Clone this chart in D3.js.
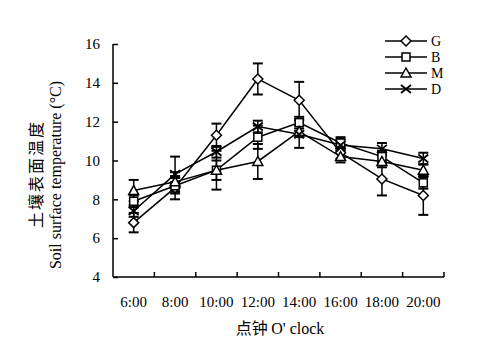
<!DOCTYPE html>
<html><head><meta charset="utf-8">
<script src="https://cdn.jsdelivr.net/npm/d3@7"></script>
<style>body{margin:0;background:#fff}svg{display:block}</style>
</head><body>
<svg id="c" width="482" height="358"></svg>
<script>
const categories = ["6:00","8:00","10:00","12:00","14:00","16:00","18:00","20:00"];
const seriesNames = ["G","B","M","D"];
const valuesG = [6.8, 8.6, 11.3, 14.2, 13.1, 10.4, 9.05, 8.2];
const valuesB = [7.9, 8.7, 9.5, 11.2, 11.95, 10.9, 10.2, 8.85];
const valuesM = [8.45, 8.9, 9.5, 9.95, 11.5, 10.2, 9.95, 9.5];
const valuesD = [7.4, 9.3, 10.45, 11.75, 11.35, 10.8, 10.6, 10.1];
const errG = [0.5, 0.6, 0.6, 0.8, 0.95, 0.3, 0.85, 1.0];
const errB = [0.3, 0.4, 0.5, 0.6, 0.3, 0.3, 0.3, 0.3];
const errM = [0.55, 0.5, 1.0, 0.9, 0.3, 0.3, 0.3, 0.3];
const errD = [0.3, 0.9, 0.3, 0.3, 0.7, 0.3, 0.3, 0.3];
const yTicks = [4, 6, 8, 10, 12, 14, 16];

(function(){
const series = [
  {name:"G", values:valuesG, err:errG, marker:"diamond"},
  {name:"B", values:valuesB, err:errB, marker:"square"},
  {name:"M", values:valuesM, err:errM, marker:"triangle"},
  {name:"D", values:valuesD, err:errD, marker:"cross"}
];

const svg = d3.select("#c");
const L = 113, R = 444, T = 44, B = 277;
const x = d3.scaleBand().domain(categories).range([L, R]);
const y = d3.scaleLinear().domain([4, 16]).range([B, T]);
const font = "'Liberation Serif', 'Times New Roman', serif";
const cjk = "'Noto Sans CJK SC', sans-serif";

const yAxis = d3.axisLeft(y).tickValues(yTicks).tickSize(-5).tickPadding(13).tickFormat(d3.format("d"));
const gy = svg.append("g").attr("transform", `translate(${L},0)`).call(yAxis);
gy.select(".domain").attr("d", `M0,${T}V${B}`).attr("stroke-width", 1.5);
gy.selectAll(".tick line").attr("stroke-width", 1.5);
gy.selectAll("text").attr("font-family", font).attr("font-size", 15).attr("fill", "#000");

const gx = svg.append("g").attr("transform", `translate(0,${B})`);
gx.append("line").attr("x1", L).attr("x2", R).attr("stroke", "#000").attr("stroke-width", 1.5);
const bounds = categories.map(c => x(c) + x.bandwidth());
gx.selectAll(".tk").data(bounds).enter().append("line")
  .attr("x1", d => d).attr("x2", d => d).attr("y1", 0).attr("y2", -5)
  .attr("stroke", "#000").attr("stroke-width", 1.5);
gx.selectAll(".lb").data(categories).enter().append("text")
  .attr("x", d => x(d) + x.bandwidth() / 2).attr("y", 30)
  .attr("text-anchor", "middle").attr("font-family", font).attr("font-size", 15)
  .text(d => d);

svg.append("text").attr("transform", "translate(42,174) rotate(-90)")
  .attr("text-anchor", "middle").attr("font-family", cjk)
  .attr("font-size", 16).attr("letter-spacing", 2).text("土壤表面温度");
svg.append("text").attr("transform", "translate(61,175) rotate(-90)")
  .attr("text-anchor", "middle").attr("font-family", font)
  .attr("font-size", 16).text("Soil surface temperature (°C)");
svg.append("text").attr("x", 280).attr("y", 334).attr("text-anchor", "middle")
  .attr("font-size", 16).attr("font-family", cjk)
  .text("点钟 ").append("tspan").attr("font-family", font).text("O' clock");

const cx = c => x(c) + x.bandwidth() / 2;

function drawMarker(g, type, px, py) {
  const s = g.append("g").attr("transform", `translate(${px},${py})`);
  if (type === "diamond") {
    s.append("path").attr("d", "M0,-5L5,0L0,5L-5,0Z").attr("fill", "#fff").attr("stroke", "#000").attr("stroke-width", 1.5);
  } else if (type === "square") {
    s.append("rect").attr("x", -4).attr("y", -4).attr("width", 8).attr("height", 8).attr("fill", "#fff").attr("stroke", "#000").attr("stroke-width", 1.5);
  } else if (type === "triangle") {
    s.append("path").attr("d", "M0,-5L5,4L-5,4Z").attr("fill", "#fff").attr("stroke", "#000").attr("stroke-width", 1.5);
  } else {
    s.append("path").attr("d", "M-5,-4L5,4M-5,4L5,-4").attr("stroke", "#000").attr("stroke-width", 1.8);
  }
}

const line = d3.line().x((d, i) => cx(categories[i])).y(d => y(d));
series.forEach(s => {
  const g = svg.append("g");
  s.values.forEach((v, i) => {
    const px = cx(categories[i]);
    const e = s.err[i];
    g.append("line").attr("x1", px).attr("x2", px).attr("y1", y(v - e)).attr("y2", y(v + e)).attr("stroke", "#000").attr("stroke-width", 1.5);
    [v - e, v + e].forEach(t => g.append("line").attr("x1", px - 5).attr("x2", px + 5).attr("y1", y(t)).attr("y2", y(t)).attr("stroke", "#000").attr("stroke-width", 2));
  });
  g.append("path").datum(s.values).attr("d", line).attr("fill", "none").attr("stroke", "#000").attr("stroke-width", 1.5);
});
series.forEach(s => {
  const g = svg.append("g");
  s.values.forEach((v, i) => drawMarker(g, s.marker, cx(categories[i]), y(v)));
});

const legY = [41, 57, 73, 89];
series.forEach((s, i) => {
  const g = svg.append("g");
  g.append("line").attr("x1", 385).attr("x2", 427).attr("y1", legY[i]).attr("y2", legY[i]).attr("stroke", "#000").attr("stroke-width", 1.5);
  drawMarker(g, s.marker, 406, legY[i]);
  g.append("text").attr("x", 431).attr("y", legY[i] + 5).attr("font-family", font).attr("font-size", 14).text(s.name);
});
})();
</script>
</body></html>
